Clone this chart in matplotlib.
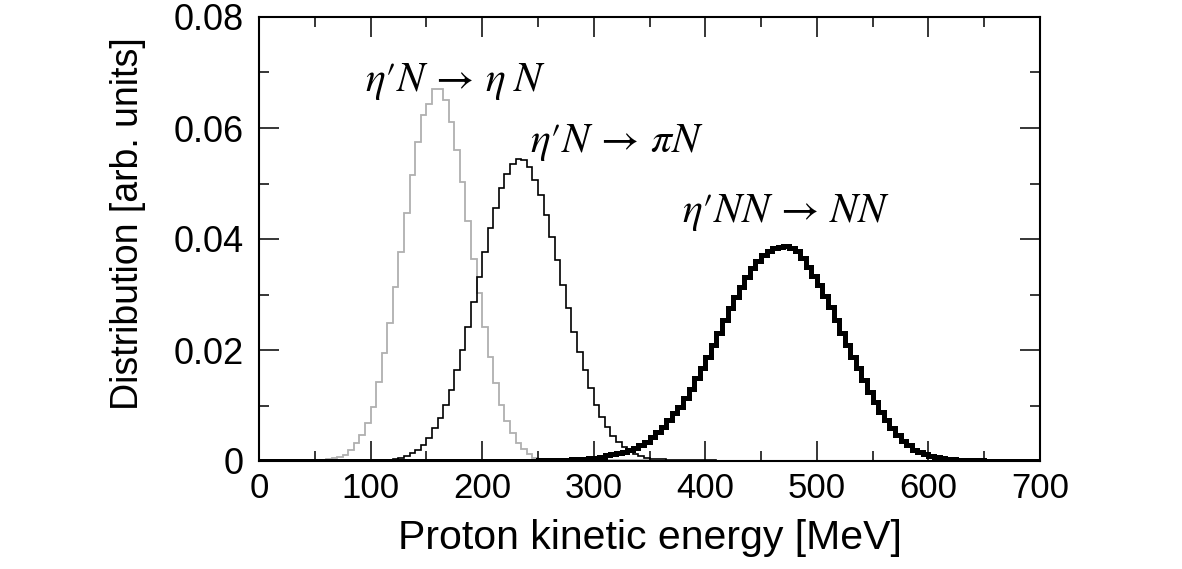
import numpy as np
import matplotlib
matplotlib.use("Agg")
import matplotlib.pyplot as plt
from matplotlib.ticker import MultipleLocator

plt.rcParams['font.family'] = ['Liberation Sans', 'DejaVu Sans']
plt.rcParams['mathtext.fontset'] = 'stix'

# histogram binning, 5 MeV bins from 0 to 700 MeV
bin_edges = np.arange(0, 705, 5)

# eta' N -> eta N  (grey), first bin starts at 50 MeV
eta_start = 50
eta_vals = [0.0001, 0.0002, 0.0003, 0.0005, 0.0008, 0.0011, 0.0020, 0.0032, 0.0047, 0.0068,
            0.0098, 0.0143, 0.0194, 0.0248, 0.0314, 0.0377, 0.0446, 0.0515, 0.0575, 0.0623,
            0.0644, 0.0670, 0.0670, 0.0650, 0.0611, 0.0560, 0.0503, 0.0432, 0.0364, 0.0302,
            0.0242, 0.0188, 0.0140, 0.0101, 0.0072, 0.0050, 0.0033, 0.0021, 0.0012, 0.0006,
            0.0004, 0.0003, 0.0003, 0.0002, 0.0002, 0.0002, 0.0002, 0.0001, 0.0001, 0.0001,
            0.0001, 0.0001, 0.0001, 0.0001, 0.0001, 0.0001, 0.0001, 0.0001, 0.0001, 0.0001]

# eta' N -> pi N  (thin black), first bin starts at 110 MeV
pi_start = 110
pi_vals = [0.0001, 0.0002, 0.0003, 0.0005, 0.0009, 0.0014, 0.0020, 0.0029, 0.0041, 0.0059,
           0.0077, 0.0101, 0.0128, 0.0164, 0.0200, 0.0242, 0.0287, 0.0332, 0.0377, 0.0419,
           0.0455, 0.0491, 0.0518, 0.0536, 0.0545, 0.0542, 0.0530, 0.0506, 0.0479, 0.0443,
           0.0404, 0.0362, 0.0317, 0.0275, 0.0233, 0.0197, 0.0164, 0.0131, 0.0101, 0.0080,
           0.0062, 0.0045, 0.0034, 0.0026, 0.0018, 0.0013, 0.0009, 0.0006, 0.0004, 0.0003,
           0.0003, 0.0002, 0.0002, 0.0002, 0.0001, 0.0001, 0.0001, 0.0001, 0.0001, 0.0001]

# eta' NN -> NN  (thick black), first bin starts at 250 MeV
nn_start = 250
nn_vals = [0.0001, 0.0001, 0.0001, 0.0002, 0.0002, 0.0002, 0.0003, 0.0003, 0.0004, 0.0005,
           0.0006, 0.0008, 0.0010, 0.0012, 0.0014, 0.0017, 0.0020, 0.0024, 0.0029, 0.0035,
           0.0044, 0.0053, 0.0062, 0.0074, 0.0086, 0.0098, 0.0113, 0.0130, 0.0149, 0.0167,
           0.0188, 0.0209, 0.0230, 0.0254, 0.0275, 0.0296, 0.0314, 0.0332, 0.0348, 0.0360,
           0.0371, 0.0378, 0.0383, 0.0386, 0.0387, 0.0384, 0.0378, 0.0366, 0.0350, 0.0334,
           0.0318, 0.0298, 0.0278, 0.0254, 0.0230, 0.0209, 0.0188, 0.0167, 0.0146, 0.0125,
           0.0107, 0.0089, 0.0074, 0.0059, 0.0047, 0.0036, 0.0028, 0.0020, 0.0016, 0.0012,
           0.0009, 0.0007, 0.0005, 0.0004, 0.0003, 0.0002, 0.0002, 0.0001, 0.0001, 0.0001]

y_ticks = [0, 0.02, 0.04, 0.06, 0.08]
y_ticklabels = ['0', '0.02', '0.04', '0.06', '0.08']
x_ticks = [0, 100, 200, 300, 400, 500, 600, 700]

labels = [r'$\eta′N \,\rightarrow\, \eta\;N$',
          r'$\eta′N \,\rightarrow\, \pi N$',
          r'$\eta′NN \,\rightarrow\, NN$']
label_pos = [(95, 0.0667), (243, 0.0556), (379, 0.0430)]


def full_hist(start, vals):
    # pad the non-zero part out to the whole 0..700 range
    h = np.zeros(len(bin_edges) - 1)
    i0 = start // 5
    h[i0:i0 + len(vals)] = vals
    return h


fig = plt.figure(figsize=(11.82, 5.69), dpi=100)
ax = fig.add_axes([259 / 1182, 108 / 569, 781 / 1182, 444 / 569])

ax.stairs(full_hist(eta_start, eta_vals), bin_edges, color='#b0b0b0', lw=1.3)
ax.stairs(full_hist(pi_start, pi_vals), bin_edges, color='black', lw=1.2)
ax.stairs(full_hist(nn_start, nn_vals), bin_edges, color='black', lw=3.6)

for txt, (x, y) in zip(labels, label_pos):
    ax.text(x, y, txt, fontsize=30, ha='left', va='baseline')

ax.set_xlim(0, 700)
ax.set_ylim(0, 0.08)
ax.set_xticks(x_ticks)
ax.set_yticks(y_ticks)
ax.set_yticklabels(y_ticklabels)
ax.xaxis.set_minor_locator(MultipleLocator(50))
ax.yaxis.set_minor_locator(MultipleLocator(0.01))
ax.tick_params(which='both', direction='in', top=True, right=True, width=1.1, labelsize=25)
ax.tick_params(axis='y', labelsize=26)
ax.tick_params(which='major', length=14.5)
ax.tick_params(which='minor', length=7.5)
ax.tick_params(axis='y', pad=11)
ax.tick_params(axis='x', pad=8)
for s in ax.spines.values():
    s.set_linewidth(1.5)

ax.set_xlabel('Proton kinetic energy [MeV]', fontsize=29.5)
ax.set_ylabel('Distribution [arb. units]', fontsize=27)
ax.xaxis.set_label_coords(0.5, -0.13)
ax.yaxis.set_label_coords(-0.145, 0.534)

plt.savefig('out.png', dpi=100)
